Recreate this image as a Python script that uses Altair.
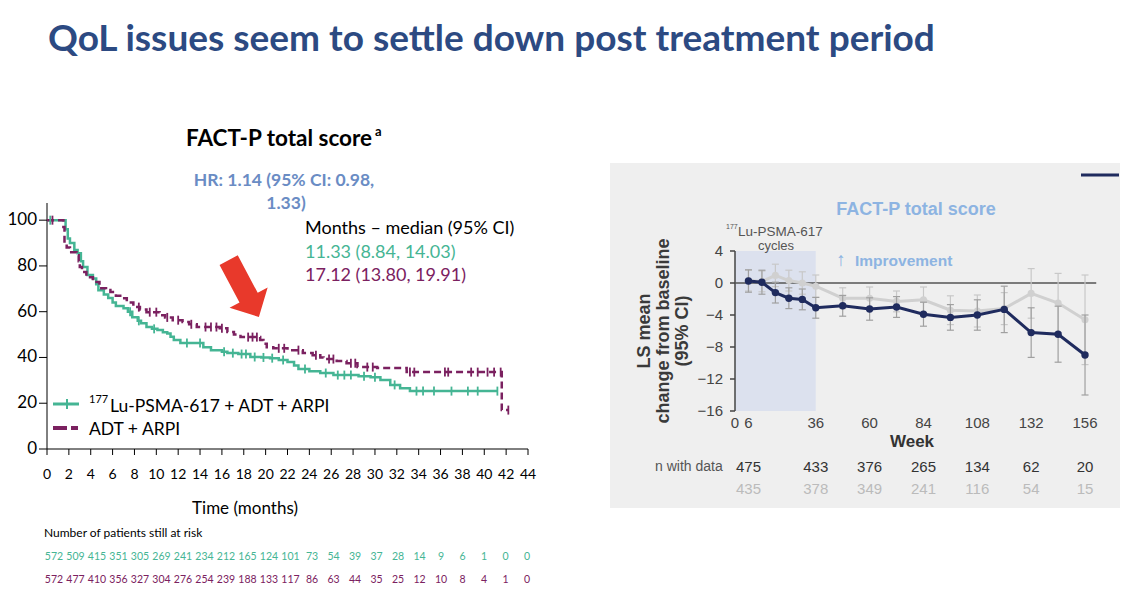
import altair as alt
import pandas as pd

W, H = 1142, 598
LATO = "Lato"
ARIAL = "Liberation Sans"
TEAL = "#45B594"
PURPLE = "#7B2160"
HRBLUE = "#6A8CC4"
TITLEBLUE = "#2C4A82"
NAVY = "#1F2B5E"
LGRAY = "#D0D0D0"
LBLUE = "#8DB4E2"
RED = "#E8392B"

# ---------------- Kaplan-Meier (time to FACT-P deterioration) ----------------
lu_t = [0, 1.7, 1.9, 2.1, 2.5, 2.8, 3.1, 3.3, 3.7, 4.2, 4.5, 4.7, 5.2, 5.6, 6.0, 6.3, 7.0, 7.4, 7.8, 8.3,
        8.6, 9.1, 9.6, 10.1, 10.6, 11.0, 11.3, 11.6, 12.2, 14.3, 15.0, 16.0, 16.5, 17.5, 18.6, 19.6, 20.4,
        21.2, 22.0, 22.6, 23.0, 24.0, 25.0, 26.2, 28.5, 29.6, 30.5, 31.4, 32.3, 33.2, 41.2]
lu_s = [100, 96, 92, 90, 87, 85.5, 82, 79.5, 76, 74.5, 72, 69.4, 67.5, 66, 64, 62.5, 61.5, 60, 57.6, 56,
        55, 53.3, 52.5, 52, 51, 50.5, 49, 47.6, 46.3, 44.5, 43.2, 42.5, 41.9, 41.5, 40.2, 40.0, 39.7,
        38.9, 38, 36.5, 35.0, 34.0, 33.2, 32.3, 31.8, 31.4, 30.1, 28, 26.6, 25.3, 25.3]
adt_t = [0, 1.5, 1.6, 1.8, 2.1, 2.7, 2.9, 3.0, 3.2, 3.6, 4.2, 4.8, 5.4, 5.8, 6.3, 6.7, 7.3, 7.9, 8.5, 9.1,
         10.3, 10.8, 11.5, 12.4, 13.0, 13.7, 15.8, 16.5, 17.1, 17.7, 19.5, 19.8, 20.1, 20.7, 22.0, 23.4,
         24.3, 25.0, 25.3, 26.5, 27.4, 28.4, 30.2, 32.9, 41.6, 42.2]
adt_s = [100, 97, 90, 88, 86, 84.7, 82, 79.5, 77.3, 75, 73, 70.3, 69.5, 68.6, 67, 65.9, 64, 62, 61, 59.8,
         58.5, 57.5, 56.3, 55.5, 54.5, 53.3, 52.8, 51.1, 50, 48.9, 47.6, 46, 44.5, 44, 43.2, 41.9,
         41, 40, 39.3, 38.5, 37.5, 35.8, 35.4, 33.6, 17, 17]
lu_cens = [0.3, 7.6, 8.4, 9.8, 12.8, 14.0, 16.2, 17.0, 17.8, 18.2, 19.0, 19.8, 20.6, 21.6, 23.6, 25.5,
           26.6, 27.2, 27.8, 29.0, 30.0, 31.8, 33.8, 34.4, 35.4, 37.0, 38.5, 39.4, 41.2]
adt_cens = [0.5, 8.4, 9.4, 10.0, 11.0, 12.0, 13.2, 14.5, 15.0, 15.5, 16.0, 18.4, 18.8, 19.2, 21.2, 21.7,
            23.0, 24.6, 25.8, 26.2, 27.8, 28.2, 29.3, 29.8, 33.2, 33.6, 36.4, 36.7, 38.8, 39.4, 40.3,
            40.9, 41.5, 42.2]
km_x_ticks = list(range(0, 45, 2))
km_y_ticks = [0, 20, 40, 60, 80, 100]
risk_months = list(range(0, 45, 2))
lu_risk = [572, 509, 415, 351, 305, 269, 241, 234, 212, 165, 124, 101, 73, 54, 39, 37, 28, 14, 9, 6, 1, 0, 0]
adt_risk = [572, 477, 410, 356, 327, 304, 276, 254, 239, 188, 133, 117, 86, 63, 44, 35, 25, 12, 10, 8, 4, 1, 0]
arrow_pos = [18.0, 70.1]

# ---------------- LS mean change from baseline ----------------
weeks = [6, 12, 18, 24, 30, 36, 48, 60, 72, 84, 96, 108, 120, 132, 144, 156]
lu_ls = [0.25, 0.1, -1.2, -1.9, -2.05, -3.1, -2.85, -3.25, -3.0, -3.9, -4.3, -4.0, -3.3, -6.2, -6.4, -9.0]
lu_ci = [1.4, 1.5, 1.3, 1.3, 1.3, 1.3, 1.3, 1.4, 1.3, 1.5, 1.6, 1.9, 2.9, 3.1, 3.5, 5.0]
ctl_ls = [0.3, 0.2, 0.95, 0.3, 0.0, -0.4, -1.9, -1.9, -2.3, -2.1, -3.4, -3.5, -3.2, -1.3, -2.5, -4.6]
ctl_ci = [1.3, 1.3, 1.4, 1.3, 1.4, 1.4, 1.3, 1.4, 1.3, 1.6, 1.8, 2.0, 2.0, 3.1, 3.7, 5.6]
ls_x_ticks = [0, 6, 36, 60, 84, 108, 132, 156]
ls_y_ticks = [-16, -12, -8, -4, 0, 4]
n_weeks = [6, 36, 60, 84, 108, 132, 156]
n_lu = [475, 433, 376, 265, 134, 62, 20]
n_ctl = [435, 378, 349, 241, 116, 54, 15]


def surv_at(ts, ss, t):
    v = ss[0]
    for ti, si in zip(ts, ss):
        if ti <= t:
            v = si
    return v


def txt(s, x, y, size, color="#000000", weight="normal", align="left", font=LATO, angle=None):
    kw = dict(text=s, fontSize=size, color=color, fontWeight=weight, align=align, font=font,
              baseline="middle")
    if angle is not None:
        kw["angle"] = angle
    return alt.Chart(pd.DataFrame({"k": [0]})).mark_text(**kw).encode(x=alt.value(x), y=alt.value(y))


HTICK_LEFT = "M-1,0L0,0"
VTICK_DOWN = "M0,0L0,1"

# ---------- KM panel ----------
kx = alt.Scale(domain=[0, 44], range=[47, 528], nice=False, zero=False)
ky = alt.Scale(domain=[0, 107.5], range=[449, 203], nice=False, zero=False)


def KX(f):
    return alt.X(f, scale=kx, axis=None)


def KY(f):
    return alt.Y(f, scale=ky, axis=None)


lu_df = pd.DataFrame({"t": lu_t, "s": lu_s})
adt_df = pd.DataFrame({"t": adt_t, "s": adt_s})
luc_df = pd.DataFrame({"t": lu_cens, "s": [surv_at(lu_t, lu_s, c) for c in lu_cens]})
adc_df = pd.DataFrame({"t": adt_cens, "s": [surv_at(adt_t, adt_s, c) for c in adt_cens]})
arrow_df = pd.DataFrame({"t": [arrow_pos[0]], "s": [arrow_pos[1]]})

# axes drawn from the tick lists through the scales
kxt_df = pd.DataFrame({"v": km_x_ticks, "z": [0] * len(km_x_ticks)})
kyt_df = pd.DataFrame({"v": km_y_ticks, "z": [0] * len(km_y_ticks)})
k_xline = alt.Chart(pd.DataFrame({"a": [0], "b": [44], "y": [0]})).mark_rule(
    color="#000", strokeWidth=1).encode(x=KX("a:Q"), x2="b:Q", y=KY("y:Q"))
k_yline = alt.Chart(pd.DataFrame({"x": [0], "a": [0], "b": [107.5]})).mark_rule(
    color="#000", strokeWidth=1).encode(x=KX("x:Q"), y=KY("a:Q"), y2="b:Q")
k_xticks = alt.Chart(kxt_df).mark_point(shape=VTICK_DOWN, size=144, color="#000", strokeWidth=1,
                                        opacity=1).encode(x=KX("v:Q"), y=KY("z:Q"))
k_yticks = alt.Chart(kyt_df).mark_point(shape=HTICK_LEFT, size=256, color="#000", strokeWidth=1,
                                        opacity=1).encode(x=KX("z:Q"), y=KY("v:Q"))
k_xlabels = alt.Chart(kxt_df).mark_text(font=LATO, fontSize=14, color="#000", baseline="middle",
                                        dy=26).encode(x=KX("v:Q"), y=KY("z:Q"), text="v:Q")
k_ylabels = alt.Chart(kyt_df).mark_text(font=LATO, fontSize=17, color="#000", baseline="middle",
                                        align="right", dx=-10).encode(x=KX("z:Q"), y=KY("v:Q"), text="v:Q")

lu_line = alt.Chart(lu_df).mark_line(interpolate="step-after", color=TEAL, strokeWidth=2.5).encode(
    x=KX("t:Q"), y=KY("s:Q"))
adt_line = alt.Chart(adt_df).mark_line(interpolate="step-after", color=PURPLE, strokeWidth=2.5,
                                       strokeDash=[7, 4]).encode(x=KX("t:Q"), y=KY("s:Q"))
CENS = "M0,-1L0,1"
lu_c = alt.Chart(luc_df).mark_point(shape=CENS, size=81, strokeWidth=1.8, color=TEAL, filled=False,
                                    opacity=1).encode(x=KX("t:Q"), y=KY("s:Q"))
adt_c = alt.Chart(adc_df).mark_point(shape=CENS, size=81, strokeWidth=1.8, color=PURPLE, filled=False,
                                     opacity=1).encode(x=KX("t:Q"), y=KY("s:Q"))
ARROW = "M-1,-0.32L0.32,-0.32L0.32,-0.67L1,0L0.32,0.67L0.32,0.32L-1,0.32Z"
arrow = alt.Chart(arrow_df).mark_point(shape=ARROW, size=4150, angle=62, filled=True, color=RED,
                                       opacity=1, strokeWidth=0).encode(x=KX("t:Q"), y=KY("s:Q"))
km = alt.layer(k_xline, k_yline, k_xticks, k_yticks, k_xlabels, k_ylabels,
               lu_line, adt_line, lu_c, adt_c, arrow)

rx = alt.Scale(domain=[0, 44], range=[54, 527], nice=False, zero=False)
risk_df = pd.DataFrame({"m": risk_months, "lu": lu_risk, "adt": adt_risk})
risk_lu = alt.Chart(risk_df).mark_text(font=LATO, fontSize=10.5, color=TEAL, baseline="middle").encode(
    x=alt.X("m:Q", scale=rx, axis=None), y=alt.value(557), text="lu:Q")
risk_adt = alt.Chart(risk_df).mark_text(font=LATO, fontSize=10.5, color=PURPLE, baseline="middle").encode(
    x=alt.X("m:Q", scale=rx, axis=None), y=alt.value(580), text="adt:Q")
risk = alt.layer(risk_lu, risk_adt)

# ---------- LS mean panel ----------
lx = alt.Scale(domain=[0, 160], range=[735, 1094], nice=False, zero=False)
ly = alt.Scale(domain=[-16, 4], range=[411, 251], nice=False, zero=False)


def LX(f):
    return alt.X(f, scale=lx, axis=None)


def LY(f):
    return alt.Y(f, scale=ly, axis=None)


lxt_df = pd.DataFrame({"v": ls_x_ticks, "z": [-16] * len(ls_x_ticks)})
lyt_df = pd.DataFrame({"v": ls_y_ticks, "z": [0] * len(ls_y_ticks)})

shade_df = pd.DataFrame({"x": [0], "x2": [36], "y": [-16], "y2": [4]})
shade = alt.Chart(shade_df).mark_rect(color="#DCE1EE").encode(
    x=LX("x:Q"), x2="x2:Q", y=LY("y:Q"), y2="y2:Q")
l_yline = alt.Chart(pd.DataFrame({"x": [0], "a": [-16], "b": [4]})).mark_rule(
    color="#444", strokeWidth=1.5).encode(x=LX("x:Q"), y=LY("a:Q"), y2="b:Q")
l_yticks = alt.Chart(lyt_df).mark_point(shape=HTICK_LEFT, size=100, color="#444", strokeWidth=1.5,
                                        opacity=1).encode(x=LX("z:Q"), y=LY("v:Q"))
l_ylabels = alt.Chart(lyt_df).mark_text(font=ARIAL, fontSize=15, color="#444", baseline="middle",
                                        align="right", dx=-12).encode(x=LX("z:Q"), y=LY("v:Q"), text="v:Q")
l_xlabels = alt.Chart(lxt_df).mark_text(font=ARIAL, fontSize=15, color="#444", baseline="middle",
                                        dy=12).encode(x=LX("v:Q"), y=LY("z:Q"), text="v:Q")
zero_df = pd.DataFrame({"x": [0], "x2": [161], "y": [0]})
zero = alt.Chart(zero_df).mark_rule(color="#555555", strokeWidth=1.5).encode(
    x=LX("x:Q"), x2="x2:Q", y=LY("y:Q"))

ls_df = pd.DataFrame({"week": weeks, "lu": lu_ls, "lu_ci": lu_ci, "ctl": ctl_ls, "ctl_ci": ctl_ci})
ls_df["lu_lo"] = ls_df["lu"] - ls_df["lu_ci"]
ls_df["lu_hi"] = ls_df["lu"] + ls_df["lu_ci"]
ls_df["ctl_lo"] = ls_df["ctl"] - ls_df["ctl_ci"]
ls_df["ctl_hi"] = ls_df["ctl"] + ls_df["ctl_ci"]

CAP = "M-1,0L1,0"


def arm_layers(key, line_color, bar_color, lw, msize):
    base = alt.Chart(ls_df)
    bars = base.mark_rule(color=bar_color, strokeWidth=1.2).encode(
        x=LX("week:Q"), y=LY(f"{key}_lo:Q"), y2=f"{key}_hi:Q")
    cap_lo = base.mark_point(shape=CAP, size=49, color=bar_color, strokeWidth=1.2, opacity=1).encode(
        x=LX("week:Q"), y=LY(f"{key}_lo:Q"))
    cap_hi = base.mark_point(shape=CAP, size=49, color=bar_color, strokeWidth=1.2, opacity=1).encode(
        x=LX("week:Q"), y=LY(f"{key}_hi:Q"))
    line = base.mark_line(color=line_color, strokeWidth=lw).encode(x=LX("week:Q"), y=LY(f"{key}:Q"))
    pts = base.mark_circle(color=line_color, size=msize, opacity=1).encode(x=LX("week:Q"), y=LY(f"{key}:Q"))
    return [bars, cap_lo, cap_hi, line, pts]


n_df = pd.DataFrame({"week": n_weeks, "lu": n_lu, "ctl": n_ctl})
n_lu_t = alt.Chart(n_df).mark_text(font=ARIAL, fontSize=15, color="#333333", baseline="middle").encode(
    x=LX("week:Q"), y=alt.value(467), text="lu:Q")
n_ctl_t = alt.Chart(n_df).mark_text(font=ARIAL, fontSize=15, color="#BBBBBB", baseline="middle").encode(
    x=LX("week:Q"), y=alt.value(489), text="ctl:Q")

ls = alt.layer(shade, l_yline, l_yticks, l_ylabels, l_xlabels, zero,
               *arm_layers("ctl", LGRAY, "#C8C8C8", 3, 50),
               *arm_layers("lu", NAVY, "#A0A0A0", 3, 55), n_lu_t, n_ctl_t)

# ---------- decorations & text ----------
panel = alt.Chart(pd.DataFrame({"k": [0]})).mark_rect(color="#EFEFEF").encode(
    x=alt.value(610), x2=alt.value(1120), y=alt.value(163), y2=alt.value(508))
leg_lu = alt.Chart(pd.DataFrame({"k": [0]})).mark_rule(color=TEAL, strokeWidth=3).encode(
    x=alt.value(53), x2=alt.value(79), y=alt.value(404))
leg_lu_tick = alt.Chart(pd.DataFrame({"k": [0]})).mark_rule(color=TEAL, strokeWidth=2).encode(
    x=alt.value(67), y=alt.value(399), y2=alt.value(409))
leg_adt = alt.Chart(pd.DataFrame({"k": [0]})).mark_rule(color=PURPLE, strokeWidth=4,
                                                        strokeDash=[14, 4]).encode(
    x=alt.value(53), x2=alt.value(78), y=alt.value(428))
navy_leg = alt.Chart(pd.DataFrame({"k": [0]})).mark_rule(color=NAVY, strokeWidth=3).encode(
    x=alt.value(1081), x2=alt.value(1119), y=alt.value(175))

texts = [
    txt("QoL issues seem to settle down post treatment period", 48, 40, 37, TITLEBLUE, "bold"),
    txt("FACT-P total score", 186, 139, 22.5, "#000", "bold"),
    txt("a", 375, 132, 13, "#000", "bold"),
    txt("HR: 1.14 (95% CI: 0.98,", 284, 181, 17.5, HRBLUE, "bold", "center"),
    txt("1.33)", 286, 204, 17.5, HRBLUE, "bold", "center"),
    txt("Months \u2013 median (95% CI)", 305, 229, 18, "#000"),
    txt("11.33 (8.84, 14.03)", 305, 253, 18, TEAL),
    txt("17.12 (13.80, 19.91)", 305, 276, 18, PURPLE),
    txt("177", 89, 400, 11, "#000"),
    txt("Lu-PSMA-617 + ADT + ARPI", 110, 407, 17.5, "#000"),
    txt("ADT + ARPI", 89, 430, 17.5, "#000"),
    txt("Time (months)", 245, 509, 17, "#000", align="center"),
    txt("Number of patients still at risk", 44, 533, 12, "#000"),
    txt("FACT-P total score", 916, 210, 18, LBLUE, "bold", "center", ARIAL),
    txt("177", 726, 227, 7, "#555", font=ARIAL),
    txt("Lu-PSMA-617", 738, 232, 13.5, "#555", font=ARIAL),
    txt("cycles", 776, 246, 13, "#555", align="center", font=ARIAL),
    txt("\u2191", 841, 260, 19, LBLUE, "bold", "center", ARIAL),
    txt("Improvement", 855, 261, 15.5, LBLUE, "bold", font=ARIAL),
    txt("LS mean", 645, 331, 18, "#3A3A3A", "bold", "center", ARIAL, 270),
    txt("change from baseline", 664, 331, 18, "#3A3A3A", "bold", "center", ARIAL, 270),
    txt("(95% CI)", 683, 331, 18, "#3A3A3A", "bold", "center", ARIAL, 270),
    txt("Week", 912, 442, 17, "#333", "bold", "center", ARIAL),
    txt("n with data", 655, 467, 14, "#555", font=ARIAL),
]

chart = alt.layer(
    panel, km, risk, ls, leg_lu, leg_lu_tick, leg_adt, navy_leg, *texts
).resolve_scale(x="independent", y="independent").properties(
    width=W, height=H, padding=0, autosize=alt.AutoSizeParams(type="none"),
    background="white"
).configure_view(stroke=None)

chart.save("out.html", embed_options={"renderer": "svg", "actions": False})
